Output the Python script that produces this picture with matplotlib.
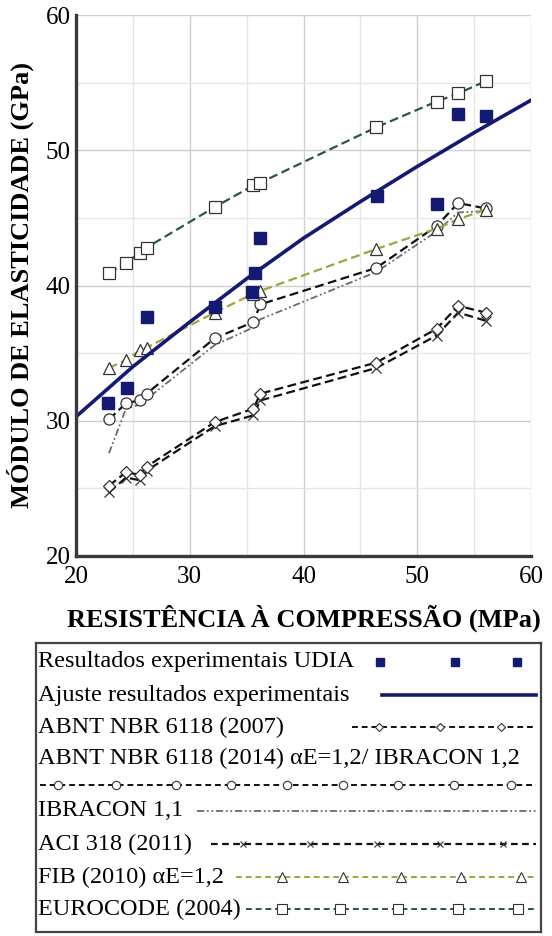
import matplotlib

matplotlib.use("Agg")

import matplotlib.pyplot as plt
import numpy as np

# compressive strength of the mixes (MPa) used by the code predictions
fc = [22.9, 24.4, 25.6, 26.2, 32.2, 35.6, 36.2, 46.4, 51.7, 53.6, 56.0]

# experimental results (UDIA)
exp_fc = [22.8, 24.5, 26.2, 32.2, 35.5, 35.7, 36.2, 46.5, 51.7, 53.6, 56.0]
exp_e = [31.3, 32.4, 37.7, 38.4, 39.5, 40.9, 43.5, 46.6, 46.0, 52.7, 52.5]

# fitted curve, read at 5 MPa steps
fit_fc = [20, 25, 30, 35, 40, 45, 50, 55, 60]
fit_e = [30.3, 34.0, 37.3, 40.5, 43.5, 46.2, 48.8, 51.3, 53.7]

# code predictions (GPa)
abnt2007 = [25.2, 26.2, 26.0, 26.6, 29.9, 30.9, 32.0, 34.3, 36.8, 38.5, 38.0]
abnt2014 = [30.1, 31.3, 31.5, 32.0, 36.1, 37.3, 38.6, 41.3, 44.4, 46.1, 45.7]
ibracon11 = [27.6, 30.9, 31.2, 31.6, 35.6, 36.9, 37.5, 41.0, 44.0, 45.4, 45.5]
aci = [24.7, 25.8, 25.6, 26.3, 29.6, 30.4, 31.5, 33.9, 36.3, 38.0, 37.4]
fib = [33.9, 34.5, 35.2, 35.4, 38.0, 39.4, 39.6, 42.7, 44.2, 44.9, 45.6]
eurocode = [40.9, 41.7, 42.4, 42.8, 45.8, 47.4, 47.6, 51.7, 53.6, 54.2, 55.1]

NAVY = "#141a72"
FIB_C = "#a3a23c"
EC_C = "#2a5548"
GRAY = "#6a6a6a"

plt.rcParams["font.family"] = ["Liberation Serif", "DejaVu Serif"]

fig = plt.figure(figsize=(5.52, 9.36), dpi=100)
ax = fig.add_axes([76 / 552, 1 - 556 / 936, 455 / 552, 541 / 936])

ax.set_xlim(20, 60)
ax.set_ylim(20, 60)
ax.set_xticks([20, 30, 40, 50, 60])
ax.set_yticks([20, 30, 40, 50, 60])
ax.set_xticks([25, 35, 45, 55], minor=True)
ax.set_yticks([25, 35, 45, 55], minor=True)
ax.grid(which="major", color="#cfcfcf", lw=1.0)
ax.grid(which="minor", color="#e6e6e6", lw=1.0)
ax.set_axisbelow(True)
ax.tick_params(which="both", length=0, labelsize=18)
ax.tick_params(axis="x", pad=7)
ax.tick_params(axis="y", pad=4)
for s in ["top", "right"]:
    ax.spines[s].set_visible(False)
for s in ["left", "bottom"]:
    ax.spines[s].set_color("#3a3a3a")
    ax.spines[s].set_linewidth(2.4)

ax.plot(fc, ibracon11, color=GRAY, lw=1.3, ls=(0, (4, 1.5, 1, 1.5, 1, 1.5)))
ax.plot(fc, aci, color="#111111", lw=1.6, ls=(0, (4, 2)), marker="x",
        ms=7, mec="#333333", mew=0.9)
ax.plot(fc, abnt2007, color="#111111", lw=1.6, ls=(0, (4, 2)), marker="D",
        ms=6, mfc="white", mec="#333333", mew=0.9)
ax.plot(fc, abnt2014, color="#111111", lw=1.6, ls=(0, (4, 2)), marker="o",
        ms=8, mfc="white", mec="#333333", mew=0.9)
ax.plot(fc, fib, color=FIB_C, lw=1.6, ls=(0, (4, 2)), marker="^",
        ms=8, mfc="white", mec="#333333", mew=0.9)
ax.plot(fc, eurocode, color=EC_C, lw=1.6, ls=(0, (4, 2)), marker="s",
        ms=9, mfc="white", mec="#333333", mew=0.9)
ax.plot(fit_fc, fit_e, color=NAVY, lw=2.6)
ax.plot(exp_fc, exp_e, ls="none", marker="s", ms=8, color=NAVY)

ax.set_xlabel("RESISTÊNCIA À COMPRESSÃO (MPa)", fontsize=19, fontweight="bold",
              labelpad=12)
ax.set_ylabel("MÓDULO DE ELASTICIDADE (GPa)", fontsize=19, fontweight="bold",
              labelpad=8)

# legend drawn by hand: label on the left, line sample on the right
lg = fig.add_axes([36 / 552, 4 / 936, 505 / 552, 289 / 936])
lg.set_xlim(0, 505)
lg.set_ylim(289, 0)
lg.set_xticks([])
lg.set_yticks([])
for s in lg.spines.values():
    s.set_color("#444444")
    s.set_linewidth(1.6)

fs = 17.5
rows = [
    ("Resultados experimentais UDIA", 19),
    ("Ajuste resultados experimentais", 52),
    ("ABNT NBR 6118 (2007)", 84),
    ("ABNT NBR 6118 (2014) \u03b1E=1,2/ IBRACON 1,2", 115),
    ("IBRACON 1,1", 168),
    ("ACI 318 (2011)", 201),
    ("FIB (2010) \u03b1E=1,2", 234),
    ("EUROCODE (2004)", 266),
]
for txt, y in rows:
    lg.text(2, y, txt, fontsize=fs, va="center", ha="left")

lg.plot([344, 419, 481], [19] * 3, ls="none", marker="s", ms=6, color=NAVY)
lg.plot([346, 500], [52, 52], color=NAVY, lw=2.6)
lg.plot([316, 500], [84, 84], color="#111111", lw=1.4, ls=(0, (3, 2)))
lg.plot([343, 404, 465], [84] * 3, ls="none", marker="D", ms=4, mfc="white",
        mec="#333333", mew=0.8)
lg.plot([4, 500], [142, 142], color="#111111", lw=1.4, ls=(0, (3, 2)))
lg.plot([22, 80, 140, 195, 251, 307, 362, 418, 475], [142] * 9, ls="none",
        marker="o", ms=6, mfc="white", mec="#333333", mew=0.8)
lg.plot([161, 500], [168, 168], color=GRAY, lw=1.3,
        ls=(0, (4, 1.5, 1, 1.5, 1, 1.5)))
lg.plot([175, 500], [201, 201], color="#111111", lw=1.6, ls=(0, (3, 2)))
lg.plot([207, 274, 341, 404, 467], [201] * 5, ls="none", marker="x", ms=5,
        mec="#333333", mew=0.8)
lg.plot([200, 500], [234, 234], color=FIB_C, lw=1.4, ls=(0, (3, 2)))
lg.plot([246, 307, 365, 425, 485], [234] * 5, ls="none", marker="^", ms=7,
        mfc="white", mec="#333333", mew=0.8)
lg.plot([210, 500], [266, 266], color=EC_C, lw=1.4, ls=(0, (3, 2)))
lg.plot([246, 304, 362, 422, 482], [266] * 5, ls="none", marker="s", ms=7,
        mfc="white", mec="#333333", mew=0.8)

fig.savefig("out.png", dpi=100)
